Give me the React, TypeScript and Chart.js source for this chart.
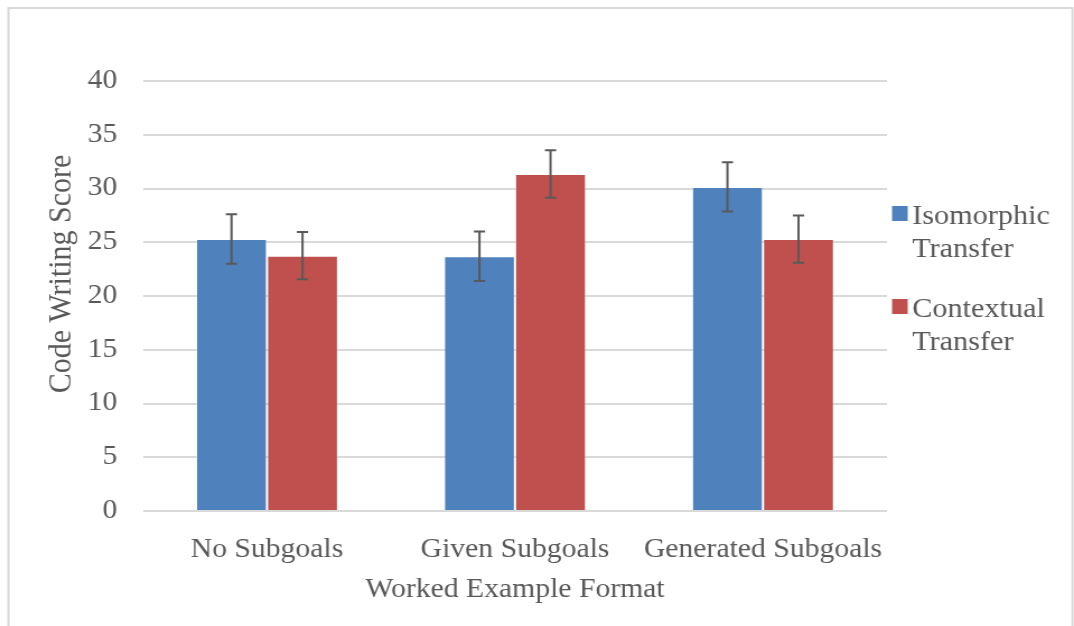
import React, { useEffect, useRef } from "react";
import { Chart, registerables } from "chart.js";

Chart.register(...registerables);

// ---- data ----
const categories = ["No Subgoals", "Given Subgoals", "Generated Subgoals"];
const seriesLabels = ["Isomorphic Transfer", "Contextual Transfer"];
const legendLines = [
  ["Isomorphic", "Transfer"],
  ["Contextual", "Transfer"],
];
const isomorphicValues = [25.3, 23.7, 30.15];
const contextualValues = [23.75, 31.35, 25.3];
const isomorphicErrors = [2.3, 2.3, 2.3];
const contextualErrors = [2.2, 2.2, 2.2];
const yMin = 0;
const yMax = 40;
const yStep = 5;
const xTitle = "Worked Example Format";
const yTitle = "Code Writing Score";

const seriesColors = ["#4f81bd", "#c0504d"];
const errorsBySeries = [isomorphicErrors, contextualErrors];

// page is stretched horizontally (reference looks ~1.12x wider than tall)
const PAGE_W = 1074;
const PAGE_H = 626;
const LOGICAL_W = 959;
const S = PAGE_W / LOGICAL_W;

const FONT = "'Liberation Serif', 'Times New Roman', serif";
const TEXT = "#595959";

const framePlugin = {
  id: "frame",
  beforeDraw(chart: any) {
    const ctx = chart.ctx;
    ctx.save();
    ctx.fillStyle = "#ffffff";
    ctx.fillRect(0, 0, chart.width, chart.height);
    ctx.strokeStyle = "#d9d9d9";
    ctx.lineWidth = 2;
    ctx.strokeRect(8.5 / S, 8, (1072.5 - 8.5) / S, 700);
    ctx.restore();
  },
};

const yTitlePlugin = {
  id: "yTitle",
  afterDraw(chart: any) {
    const ctx = chart.ctx;
    ctx.save();
    ctx.translate(62 / S, 274);
    ctx.rotate(-Math.PI / 2);
    ctx.font = `30px ${FONT}`;
    ctx.fillStyle = TEXT;
    ctx.textAlign = "center";
    ctx.textBaseline = "middle";
    ctx.fillText(yTitle, 0, 0);
    ctx.restore();
  },
};

const errorBarPlugin = {
  id: "errorBars",
  afterDatasetsDraw(chart: any) {
    const ctx = chart.ctx;
    const yScale = chart.scales.y;
    ctx.save();
    ctx.strokeStyle = "#595959";
    ctx.lineWidth = 2;
    chart.data.datasets.forEach((ds: any, i: number) => {
      const meta = chart.getDatasetMeta(i);
      const errs = errorsBySeries[i];
      meta.data.forEach((el: any, j: number) => {
        const v = ds.data[j];
        const e = errs[j];
        const yTop = yScale.getPixelForValue(v + e);
        const yBot = yScale.getPixelForValue(v - e);
        const x = el.x;
        const cap = 5;
        ctx.beginPath();
        ctx.moveTo(x, yTop);
        ctx.lineTo(x, yBot);
        ctx.moveTo(x - cap, yTop);
        ctx.lineTo(x + cap, yTop);
        ctx.moveTo(x - cap, yBot);
        ctx.lineTo(x + cap, yBot);
        ctx.stroke();
      });
    });
    ctx.restore();
  },
};

const legendPlugin = {
  id: "wrappedLegend",
  afterDraw(chart: any) {
    const ctx = chart.ctx;
    const area = chart.chartArea;
    ctx.save();
    ctx.font = `27px ${FONT}`;
    ctx.textBaseline = "alphabetic";
    ctx.textAlign = "left";
    const boxX = area.right + 4.5;
    const textX = area.right + 22.5;
    const firstBaselines = [224, 317];
    const lineGap = 33;
    legendLines.forEach((lines, i) => {
      const base = firstBaselines[i];
      ctx.fillStyle = seriesColors[i];
      ctx.fillRect(boxX, base - 18, 14, 15);
      ctx.fillStyle = TEXT;
      lines.forEach((line, k) => {
        ctx.fillText(line, textX, base + k * lineGap);
      });
    });
    ctx.restore();
  },
};

export default function App() {
  const canvasRef = useRef<HTMLCanvasElement | null>(null);

  useEffect(() => {
    if (!canvasRef.current) return;
    const chart = new Chart(canvasRef.current, {
      type: "bar",
      data: {
        labels: categories,
        datasets: [
          {
            label: seriesLabels[0],
            data: isomorphicValues,
            backgroundColor: seriesColors[0],
            borderColor: "rgba(255,255,255,0.35)",
            borderWidth: 1,
            categoryPercentage: 0.573,
            barPercentage: 1.0,
          },
          {
            label: seriesLabels[1],
            data: contextualValues,
            backgroundColor: seriesColors[1],
            borderColor: "rgba(255,255,255,0.35)",
            borderWidth: 1,
            categoryPercentage: 0.573,
            barPercentage: 1.0,
          },
        ],
      },
      options: {
        animation: false,
        responsive: false,
        devicePixelRatio: 1,
        layout: { padding: { left: 7, top: 81, right: 167, bottom: 0 } },
        plugins: {
          legend: { display: false },
          tooltip: { enabled: false },
          title: { display: false },
        },
        scales: {
          x: {
            grid: { display: false },
            border: { display: false },
            ticks: {
              color: TEXT,
              font: { family: FONT, size: 26.5 },
              padding: 15,
              maxRotation: 0,
              autoSkip: false,
            },
            title: {
              display: true,
              text: xTitle,
              color: TEXT,
              font: { family: FONT, size: 26.5 },
              padding: { top: 0, bottom: 20 },
            },
            afterFit(scale: any) {
              scale.height = 115;
            },
          },
          y: {
            min: yMin,
            max: yMax,
            grid: { color: "#d9d9d9", lineWidth: 2, drawTicks: false },
            border: { display: false },
            ticks: {
              stepSize: yStep,
              color: TEXT,
              font: { family: FONT, size: 26.5 },
              padding: 23,
            },
            afterFit(scale: any) {
              scale.width = 120.7;
            },
          },
        },
      },
      plugins: [framePlugin, errorBarPlugin, legendPlugin, yTitlePlugin],
    });
    return () => chart.destroy();
  }, []);

  return (
    <div style={{ position: "absolute", left: 0, top: 0, width: PAGE_W, height: PAGE_H, overflow: "hidden", background: "#fff" }}>
      <canvas
        ref={canvasRef}
        width={LOGICAL_W}
        height={PAGE_H}
        style={{ width: `${PAGE_W}px`, height: `${PAGE_H}px`, display: "block" }}
      />
    </div>
  );
}
